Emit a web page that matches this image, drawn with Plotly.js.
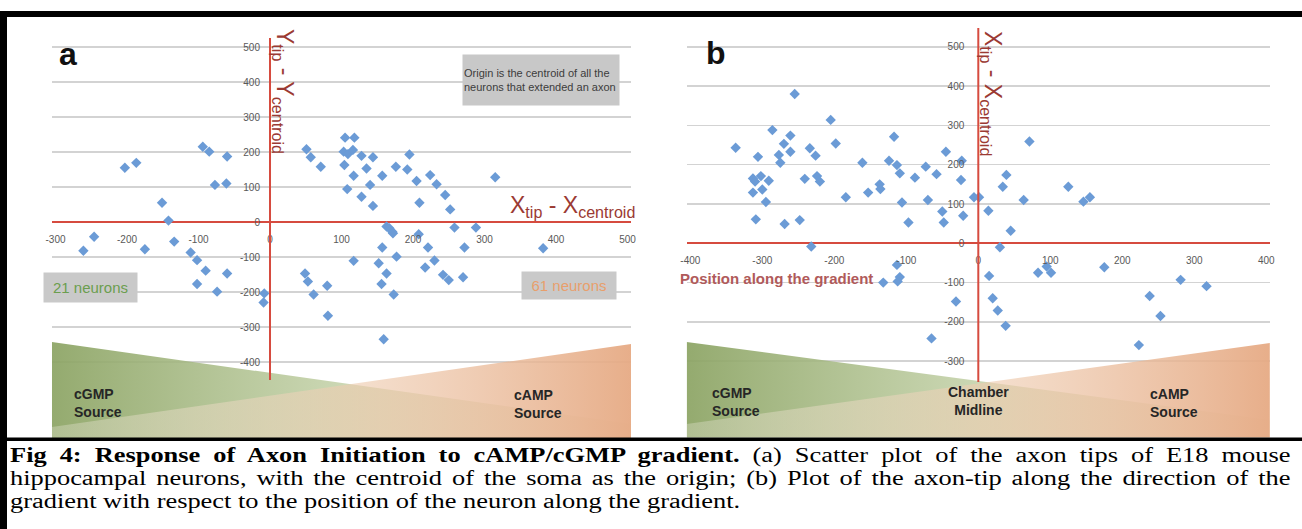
<!DOCTYPE html>
<html>
<head>
<meta charset="utf-8">
<script src="https://cdn.plot.ly/plotly-3.0.1.min.js"></script>
<style>
html,body{margin:0;padding:0;background:#fff;}
#wrap{position:relative;width:1302px;height:529px;overflow:hidden;background:#fff;}
#chart{position:absolute;left:0;top:0;width:1302px;height:529px;}
#caption{position:absolute;left:10px;top:444px;width:970px;transform:scaleX(1.32);transform-origin:0 0;
  font-family:"Liberation Serif","Times New Roman",serif;font-size:20px;line-height:23px;color:#000;}
#caption div{white-space:nowrap;}
#caption .j{text-align:justify;text-align-last:justify;white-space:normal;}
</style>
</head>
<body>
<div id="wrap">
<div id="chart"></div>
<div id="caption">
<div class="j"><b>Fig 4: Response of Axon Initiation to cAMP/cGMP gradient.</b> (a) Scatter plot of the axon tips of E18 mouse</div>
<div class="j">hippocampal neurons, with the centroid of the soma as the origin; (b) Plot of the axon-tip along the direction of the</div>
<div>gradient with respect to the position of the neuron along the gradient.</div>
</div>
</div>
<script>
// ---------- data: panel (a) axon tip relative to centroid ----------
const aTipX = [-203,-187,-94,-85,-60,-77,-61,-151,-142,-246,-261,-175,-134,-111,-102,-90,-60,-102,-74,-8,-9,
  51,57,71,105,118,103,109,116,104,117,108,128,144,135,140,128,144,157,176,195,192,205,209,224,233,245,252,258,288,
  163,167,171,172,208,221,157,177,117,152,163,156,173,230,217,242,250,272,270,49,53,61,80,81,159,315,382];
const aTipY = [155,169,215,201,187,106,110,55,4,-42,-82,-78,-56,-87,-109,-139,-147,-177,-199,-204,-230,
  208,185,158,241,241,201,194,206,163,132,94,189,185,153,106,72,46,132,158,193,150,117,55,134,108,77,36,-16,-16,
  -13,-18,-28,-32,-35,-73,-73,-99,-111,-118,-147,-177,-207,-110,-130,-151,-166,-73,-158,-147,-170,-207,-182,-268,-335,128,-75];

// ---------- data: panel (b) position along gradient vs tip displacement ----------
const bPos = [-337,-255,-205,-286,-261,-270,-261,-277,-275,-306,-198,-234,-226,-313,-302,-310,-291,-313,-300,-295,
  -309,-269,-248,-241,-224,-220,-232,-184,-161,-153,-137,-136,-124,-117,-113,-109,-106,-97,-88,-73,-70,-58,-45,-50,
  -48,-23,-24,-21,-6,1,14,39,34,45,30,-113,-109,-112,-132,15,20,27,38,-31,-65,71,63,125,146,155,83,95,101,175,281,317,238,253,223];
const bTip = [243,380,314,288,274,253,233,225,205,220,254,242,223,165,171,157,159,129,137,105,
  61,49,59,164,171,157,-8,117,205,129,150,138,210,271,199,178,104,53,167,195,110,176,233,81,
  53,210,161,70,117,117,83,174,144,32,-10,-55,-86,-97,-100,-83,-140,-171,-210,-148,-242,259,110,144,106,117,-75,-59,-75,-61,-93,-109,-134,-185,-259];

// ---------- tick labels ----------
const aXTicks = [-300,-200,-100,0,100,200,300,400,500];
const aYTicks = [-400,-300,-200,-100,0,100,200,300,400,500];
const bXTicks = [-400,-300,-200,-100,0,100,200,300,400];
const bYTicks = [-300,-200,-100,0,100,200,300,400,500];

// ---------- layout geometry (pixels of the 1302x529 page) ----------
const W = 1302, H = 529;
const A = {x0:270, sx:0.715, y0:222, sy:0.35, xr:[-305,505], yr:[-617,535]};
const B = {x0:978.3, sx:0.72, y0:243.3, sy:0.393, xr:[-405,405], yr:[-495,550]};
const PX = p => p / W;
const PY = p => 1 - p / H;
function dom(P){
  return {
    x:[PX(P.x0 + P.xr[0]*P.sx), PX(P.x0 + P.xr[1]*P.sx)],
    y:[PY(P.y0 - P.yr[0]*P.sy), PY(P.y0 - P.yr[1]*P.sy)]
  };
}
const dA = dom(A), dB = dom(B);

const tickFont = {family:'"Liberation Sans", Arial, sans-serif', size:10, color:'#595959'};
const RED = '#d64b3f';
const DARKRED = '#9b3a33';
const BLUE = '#6b9bd6';

function xAxis(d, P, ticks, posPy){
  return {domain:d.x, range:P.xr, anchor:'free', position:PY(posPy),
    tickmode:'array', tickvals:ticks, ticktext:ticks.map(String),
    ticks:'outside', ticklen:8, tickcolor:'rgba(0,0,0,0)', tickfont:tickFont,
    showgrid:false, zeroline:false, showline:false, fixedrange:true};
}
function yAxis(d, P, ticks, posPx, tl){
  return {domain:d.y, range:P.yr, anchor:'free', position:PX(posPx),
    tickmode:'array', tickvals:ticks, ticktext:ticks.map(String),
    ticks:'outside', ticklen:tl, tickcolor:'rgba(0,0,0,0)', tickfont:tickFont,
    showgrid:true, gridcolor:'#d3d3d3', gridwidth:1.5,
    zeroline:true, zerolinecolor:RED, zerolinewidth:2, showline:false, fixedrange:true};
}

// gradient wedges (decoration) in each panel's own axis units
function wedges(P, xa, ya, gTop, gRight, oTop, oLeft){
  const L = P.xr[0], R = P.xr[1], bot = P.yr[0];
  return [
    {x:[L,L,R,R,L], y:[gTop,bot,bot,gRight,gTop], xaxis:xa, yaxis:ya, mode:'none', fill:'toself',
     fillcolor:'rgba(170,190,130,0.8)', hoverinfo:'skip', showlegend:false,
     fillgradient:{type:'horizontal', colorscale:[[0,'rgba(140,164,100,0.93)'],[0.55,'rgba(196,210,168,0.8)'],[1,'rgba(236,240,226,0.6)']]}},
    {x:[R,R,L,L,R], y:[oTop,bot,bot,oLeft,oTop], xaxis:xa, yaxis:ya, mode:'none', fill:'toself',
     fillcolor:'rgba(230,180,150,0.6)', hoverinfo:'skip', showlegend:false,
     fillgradient:{type:'horizontal', colorscale:[[0,'rgba(244,240,230,0.3)'],[0.5,'rgba(238,204,176,0.6)'],[1,'rgba(230,170,132,0.95)']]}}
  ];
}
const yA = py => (A.y0 - py) / A.sy;
const yB = py => (B.y0 - py) / B.sy;

const traces = [
  ...wedges(A, 'x', 'y', yA(342), yA(424), yA(344), yA(427)),
  ...wedges(B, 'x2', 'y2', yB(342), yB(420), yB(343), yB(424)),
  {x:aTipX, y:aTipY, xaxis:'x', yaxis:'y', mode:'markers', type:'scatter', showlegend:false,
   marker:{symbol:'diamond', size:8, color:BLUE, line:{width:0}}},
  {x:bPos, y:bTip, xaxis:'x2', yaxis:'y2', mode:'markers', type:'scatter', showlegend:false,
   marker:{symbol:'diamond', size:8, color:BLUE, line:{width:0}}}
];

const sans = '"Liberation Sans", Arial, sans-serif';
function ann(px, py, text, o){
  return Object.assign({xref:'paper', yref:'paper', x:PX(px), y:PY(py), text:text, showarrow:false,
    xanchor:'center', yanchor:'middle', font:{family:sans, size:12, color:'#000'}}, o||{});
}

const annotations = [
  ann(68, 54, '<b>a</b>', {font:{family:sans, size:32, color:'#111'}}),
  ann(716, 53, '<b>b</b>', {font:{family:sans, size:32, color:'#111'}}),
  ann(283, 91, 'Y<sub>tip</sub> - Y<sub>centroid</sub>', {textangle:90, font:{family:sans, size:23, color:DARKRED}}),
  ann(572, 207, 'X<sub>tip</sub> - X<sub>centroid</sub>', {font:{family:sans, size:23, color:DARKRED}}),
  ann(992, 93, 'X<sub>tip</sub> - X<sub>centroid</sub>', {textangle:90, font:{family:sans, size:23, color:DARKRED}}),
  ann(678, 278, '<b>Position along the gradient</b>', {xanchor:'left', font:{family:sans, size:15, color:'#b05a5a'}}),
  ann(540.5, 80, 'Origin is the centroid of all the<br>neurons that extended an axon',
      {align:'left', width:154, height:48, bgcolor:'#c8c8c8', borderpad:1, font:{family:sans, size:11, color:'#3c3c3c'}}),
  ann(91, 287, '21 neurons', {width:89, height:25, bgcolor:'#c9c9c9', borderpad:2, font:{family:sans, size:15, color:'#6b9e4f'}}),
  ann(569, 285, '61 neurons', {width:90, height:23, bgcolor:'#c9c9c9', borderpad:2, font:{family:sans, size:15, color:'#e89f6c'}}),
  ann(72, 403, '<b>cGMP<br>Source</b>', {xanchor:'left', align:'left', font:{family:sans, size:14, color:'#262626'}}),
  ann(512, 404, '<b>cAMP<br>Source</b>', {xanchor:'left', align:'left', font:{family:sans, size:14, color:'#262626'}}),
  ann(710, 402, '<b>cGMP<br>Source</b>', {xanchor:'left', align:'left', font:{family:sans, size:14, color:'#262626'}}),
  ann(978, 401, '<b>Chamber<br>Midline</b>', {align:'center', font:{family:sans, size:14, color:'#262626'}}),
  ann(1148, 403, '<b>cAMP<br>Source</b>', {xanchor:'left', align:'left', font:{family:sans, size:14, color:'#262626'}})
];

const shapes = [
  // red vertical axes through the origin
  {type:'line', xref:'x', yref:'y', x0:0, x1:0, y0:yA(380), y1:yA(38), line:{color:RED, width:2}, layer:'above'},
  {type:'line', xref:'x2', yref:'y2', x0:0, x1:0, y0:yB(382), y1:yB(28), line:{color:RED, width:2}, layer:'above'},
  // black frame of the figure
  {type:'rect', xref:'paper', yref:'paper', x0:0, x1:1, y0:PY(17), y1:PY(11), fillcolor:'#000', line:{width:0}, layer:'above'},
  {type:'rect', xref:'paper', yref:'paper', x0:0, x1:PX(7), y0:0, y1:PY(11), fillcolor:'#000', line:{width:0}, layer:'above'},
  {type:'rect', xref:'paper', yref:'paper', x0:0, x1:1, y0:PY(441), y1:PY(437.5), fillcolor:'#000', line:{width:0}, layer:'above'}
];

const layout = {
  width:W, height:H, margin:{l:0, r:0, t:0, b:0},
  paper_bgcolor:'#fff', plot_bgcolor:'rgba(0,0,0,0)', showlegend:false,
  xaxis: xAxis(dA, A, aXTicks, 222),
  yaxis: yAxis(dA, A, aYTicks, 270, 8),
  xaxis2: xAxis(dB, B, bXTicks, 243.3),
  yaxis2: yAxis(dB, B, bYTicks, 978.3, 12),
  annotations: annotations,
  shapes: shapes
};

Plotly.newPlot('chart', traces, layout, {staticPlot:true, displayModeBar:false});
</script>
</body>
</html>
